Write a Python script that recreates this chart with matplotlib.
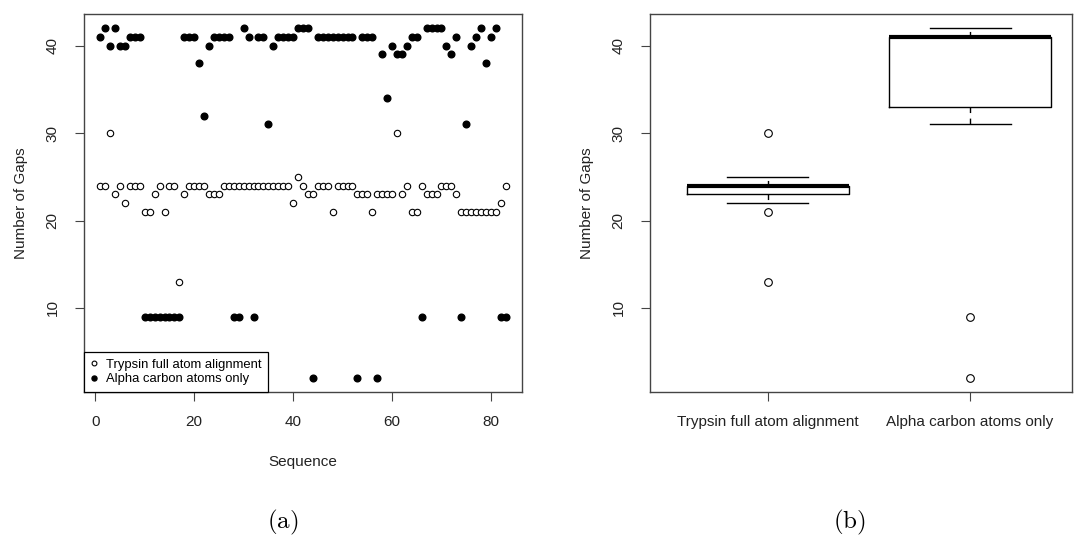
import numpy as np
import matplotlib.pyplot as plt

plt.rcParams['font.family'] = ['Liberation Sans', 'DejaVu Sans']
plt.rcParams['mathtext.fontset'] = 'cm'

# sequence index 1..83
seq = np.arange(1, 84)

trypsin = [24, 24, 30, 23, 24, 22, 24, 24, 24, 21, 21, 23, 24, 21, 24, 24, 13,
           23, 24, 24, 24, 24, 23, 23, 23,
           24, 24, 24, 24, 24, 24, 24, 24, 24, 24, 24, 24, 24, 24,
           22, 25, 24, 23, 23, 24, 24, 24, 21, 24, 24, 24, 24, 23, 23, 23, 21,
           23, 23, 23, 23, 30, 23, 24, 21, 21, 24, 23, 23, 23, 24, 24, 24, 23,
           21, 21, 21, 21, 21, 21, 21, 21, 22, 24]

alpha = [41, 42, 40, 42, 40, 40, 41, 41, 41,
         9, 9, 9, 9, 9, 9, 9, 9,
         41, 41, 41, 38, 32, 40, 41, 41, 41, 41,
         9, 9, 42, 41, 9, 41, 41, 31, 40, 41, 41, 41, 41,
         42, 42, 42, 2, 41, 41, 41, 41, 41, 41, 41, 41, 2, 41, 41, 41, 2,
         39, 34, 40, 39, 39, 40, 41, 41, 9, 42, 42, 42, 42, 40, 39, 41, 9,
         31, 40, 41, 42, 38, 41, 42, 9, 9]

groups = ['Trypsin full atom alignment', 'Alpha carbon atoms only']
yticks = [10, 20, 30, 40]
xticks = [0, 20, 40, 60, 80]

W, H = 1074, 538
fig = plt.figure(figsize=(W / 100, H / 100), dpi=100)
ax1 = fig.add_axes([84 / W, 1 - 392 / H, 438 / W, 378 / H])
ax2 = fig.add_axes([650 / W, 1 - 392 / H, 422 / W, 378 / H])

fs = 11


def style(ax):
    for s in ax.spines.values():
        s.set_color('#444444')
        s.set_linewidth(1.0)
    ax.tick_params(direction='out', length=6.5, width=0.8, color='#444444',
                   labelsize=fs, labelcolor='#222222')
    ax.tick_params(axis='x', pad=10)
    ax.tick_params(axis='y', pad=11)
    ax.set_yticks(yticks)
    ax.set_yticklabels([str(v) for v in yticks], rotation=90, va='center')
    ax.set_ylim(0.4, 43.6)


# (a) scatter
ax1.plot(seq, trypsin, 'o', ls='none', mfc='white', mec='black', ms=4.6,
         mew=0.8, label=groups[0])
ax1.plot(seq, alpha, 'o', ls='none', color='black', ms=4.8, label=groups[1])
ax1.set_xlim(-2.28, 86.28)
style(ax1)
ax1.set_xticks(xticks)
leg = ax1.legend(loc='lower left', borderaxespad=0, fancybox=False,
                 edgecolor='black', framealpha=1, fontsize=9.4, markerscale=0.75,
                 handlelength=0.6, handletextpad=0.6, borderpad=0.5,
                 labelspacing=0.2)
leg.get_frame().set_linewidth(0.9)

# (b) box plot
bp = ax2.boxplot([trypsin, alpha], positions=[1, 2], widths=0.8, whis=1.5,
                 medianprops=dict(color='black', lw=3),
                 boxprops=dict(color='black', lw=1),
                 whiskerprops=dict(color='black', lw=1, ls=(0, (4, 4))),
                 capprops=dict(color='black', lw=1),
                 flierprops=dict(marker='o', mfc='none', mec='black', ms=5.5, mew=0.8))
# draw each outlier value once, as R does visually
for fl in bp['fliers']:
    xs, ys = fl.get_data()
    uy = np.unique(ys)
    fl.set_data(np.full(len(uy), xs[0]) if len(xs) else [], uy)
ax2.set_xlim(0.418, 2.504)
style(ax2)
ax2.set_xticks([1, 2])
ax2.set_xticklabels(groups)

# axis titles
ymid = 1 - (14 + 392) / 2 / H
fig.text(21 / W, ymid, 'Number of Gaps', rotation=90, ha='center', va='center',
         fontsize=fs, color='#222222')
fig.text(587 / W, ymid, 'Number of Gaps', rotation=90, ha='center', va='center',
         fontsize=fs, color='#222222')
fig.text(303 / W, 1 - 462 / H, 'Sequence', ha='center', va='center',
         fontsize=fs, color='#222222')

fig.text(283 / W, 1 - 522 / H, r'$\mathrm{(a)}$', ha='center', va='center', fontsize=18)
fig.text(849 / W, 1 - 522 / H, r'$\mathrm{(b)}$', ha='center', va='center', fontsize=18)

fig.savefig('out.png', dpi=100)
